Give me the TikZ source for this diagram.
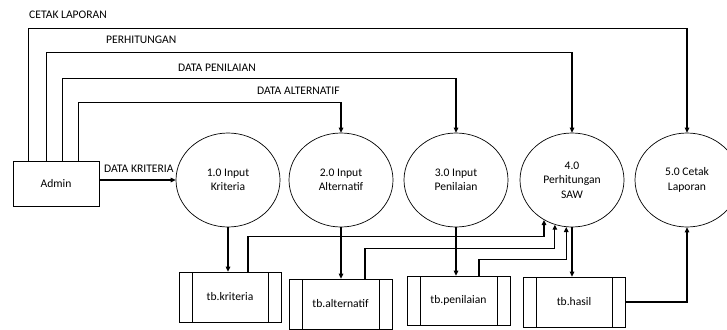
\documentclass[tikz,border=0pt]{standalone}
\usepackage{fontspec}
\setmainfont{Carlito}
\usetikzlibrary{shapes.geometric,arrows.meta,calc}
\begin{document}
\begin{tikzpicture}[x=1pt,y=-1pt,
  every node/.style={font=\fontsize{11.6}{14.5}\selectfont, text=black},
  proc/.style={ellipse, draw, line width=0.7pt, minimum width=104pt, minimum height=94pt, align=center, inner sep=0pt},
  store/.style={rectangle, draw, line width=0.7pt, minimum width=102pt, minimum height=50pt, inner sep=0pt,
    path picture={\draw[line width=0.7pt] ([xshift=13pt]path picture bounding box.north west) -- ([xshift=13pt]path picture bounding box.south west);
                  \draw[line width=0.7pt] ([xshift=-13pt]path picture bounding box.north east) -- ([xshift=-13pt]path picture bounding box.south east);}},
  ent/.style={rectangle, draw, line width=0.7pt, minimum width=86pt, minimum height=45pt, inner sep=0pt},
  lbl/.style={anchor=west, inner sep=0pt},
  arr/.style={line width=1.1pt, -{Triangle[length=5pt,width=4.5pt]}},
  ln/.style={line width=1.1pt}]
\useasboundingbox (0,0) rectangle (727,329);

\node[ent] (admin) at (56,183.5) {Admin};
\node[proc] (c1) at (228,180) {1.0 Input\\Kriteria};
\node[proc] (c2) at (341,180) {2.0 Input\\Alternatif};
\node[proc] (c3) at (456,180) {3.0 Input\\Penilaian};
\node[proc] (c4) at (572,180) {4.0\\Perhitungan\\SAW};
\node[proc] (c5) at (687,180) {5.0 Cetak\\Laporan};

\node[store] (tbk) at (230,297) {tb.kriteria};
\node[store, minimum width=103pt] (tba) at (340.5,304) {tb.alternatif};
\node[store, minimum width=103pt, minimum height=49pt] (tbp) at (458.5,300.5) {tb.penilaian};
\node[store] (tbh) at (574,302) {tb.hasil};

\node[lbl] (l1) at (29,15) {CETAK LAPORAN};
\node[lbl] (l2) at (106,40) {PERHITUNGAN};
\node[lbl] (l3) at (178,68) {DATA PENILAIAN};
\node[lbl] (l4) at (257,91) {DATA ALTERNATIF};
\node[lbl] (l5) at (104,169) {DATA KRITERIA};

% flows from admin
\draw[arr] ([xshift=16pt]admin.north west) |- ([yshift=104pt]c5.north) -- (c5.north);
\draw[arr] ([xshift=34pt]admin.north west) |- ([yshift=80pt]c4.north) -- (c4.north);
\draw[arr] ([xshift=50pt]admin.north west) |- ([yshift=54pt]c3.north) -- (c3.north);
\draw[arr] ([xshift=66pt]admin.north west) |- ([yshift=30pt]c2.north) -- (c2.north);
\draw[arr] (admin.east |- c1.west) -- (c1.west);

% processes to stores
\draw[arr] (c1.south) -- (c1.south |- tbk.north);
\draw[arr] (c2.south) -- (c2.south |- tba.north);
\draw[arr] (c3.south) -- (c3.south |- tbp.north);
\draw[arr] (c4.south) -- (c4.south |- tbh.north);

% stores to perhitungan
\draw[arr] ([xshift=18pt]tbk.north) -- ++(0,-35) -| (c4.235);
\draw[arr] ([xshift=24.5pt]tba.north) -- ++(0,-30) -| (c4.249);
\draw[arr] ([xshift=20.5pt]tbp.north) -- ++(0,-16) -| (c4.263);

% hasil to cetak
\draw[arr] (tbh.east) -| (c5.south);
\end{tikzpicture}
\end{document}
